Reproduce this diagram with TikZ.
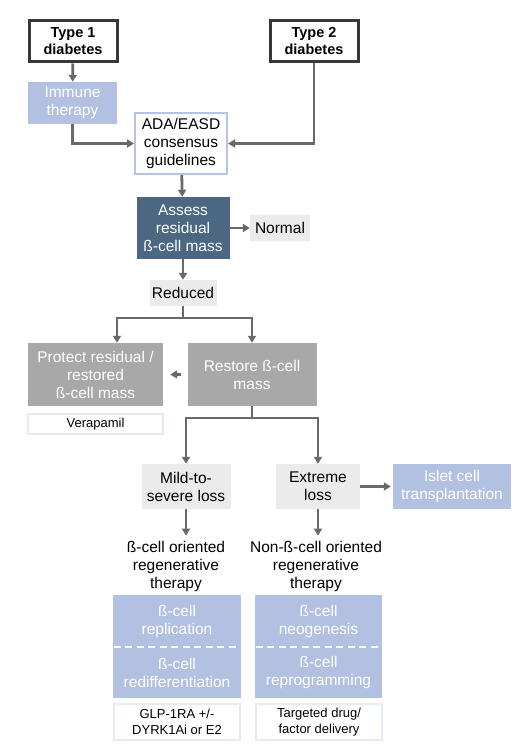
\documentclass[tikz,border=0pt]{standalone}
\usepackage{fontspec}
\setmainfont{Liberation Sans}
\usetikzlibrary{arrows.meta}

\definecolor{paleblue}{HTML}{B2C1E1}
\definecolor{slate}{HTML}{4B6782}
\definecolor{midgrey}{HTML}{A8A8A8}
\definecolor{lightgrey}{HTML}{EBEBEB}
\definecolor{typeline}{HTML}{383838}
\definecolor{adaline}{HTML}{B5C4E6}
\definecolor{noteline}{HTML}{E4EBF7}
\definecolor{flowgrey}{HTML}{696969}

\begin{document}
\begin{tikzpicture}[x = 1pt, y = -1pt,
  every node/.style = {align = center, inner sep = 0pt, font = \fontsize{15.5}{18}\selectfont},
  typebox/.style = {draw = typeline, line width = 3pt, fill = white, minimum width = 88pt, minimum height = 41pt, font = \fontsize{14.5}{17}\selectfont\bfseries},
  bluebox/.style = {fill = paleblue, text = white},
  darkbox/.style = {fill = slate, text = white},
  greybox/.style = {fill = midgrey, text = white},
  lightbox/.style = {fill = lightgrey},
  notebox/.style = {draw = noteline, line width = 2pt, fill = white, font = \fontsize{13}{16.5}\selectfont},
  flow/.style = {draw = flowgrey, line width = 2.8pt, -{Triangle[length = 7pt, width = 8pt]}},
  divider/.style = {draw = white, line width = 2.5pt, dash pattern = on 7pt off 4.5pt}]

\useasboundingbox (0, 0) rectangle (527, 751);

\node (type1) at (73, 41.5) [typebox]{Type 1\\diabetes};
\node (type2) at (314, 41.5) [typebox]{Type 2\\diabetes};
\node (immune) at (72.5, 103) [bluebox, minimum width = 89pt, minimum height = 42pt]{Immune\\therapy};
\node (ada) at (181, 143.5) [draw = adaline, line width = 2pt, fill = white, minimum width = 92pt, minimum height = 61pt]{ADA/EASD\\consensus\\guidelines};
\node (assess) at (183, 228) [darkbox, minimum width = 93pt, minimum height = 62pt]{Assess\\residual\\ß-cell mass};
\node (normal) at (280, 228) [lightbox, minimum width = 60pt, minimum height = 26pt]{Normal};
\node (reduced) at (183, 293) [lightbox, minimum width = 67pt, minimum height = 26pt]{Reduced};

\node (protect) at (95.5, 374.5) [greybox, minimum width = 135pt, minimum height = 63pt]{Protect residual /\\restored\\ß-cell mass};
\node (restore) at (252, 374.5) [greybox, minimum width = 129pt, minimum height = 63pt]{Restore ß-cell\\mass};
\node (verapamil) at (95.5, 424) [notebox, minimum width = 135pt, minimum height = 20pt]{Verapamil};

\node (mild) at (186, 486.5) [lightbox, minimum width = 89pt, minimum height = 45pt]{Mild-to-\\severe loss};
\node (extreme) at (318, 486.5) [lightbox, minimum width = 84pt, minimum height = 45pt]{Extreme\\loss};
\node (islet) at (452, 486.5) [bluebox, minimum width = 118pt, minimum height = 45pt]{Islet cell\\transplantation};

\node (betaleft) at (176, 566) {ß-cell oriented\\regenerative\\therapy};
\node (betaright) at (316, 566) {Non-ß-cell oriented\\regenerative\\therapy};

\node (replication) at (177, 621) [bluebox, minimum width = 128pt, minimum height = 52pt]{ß-cell\\replication};
\node (redifferentiation) at (177, 672.5) [bluebox, minimum width = 128pt, minimum height = 51pt]{ß-cell\\redifferentiation};
\node (neogenesis) at (318.5, 621) [bluebox, minimum width = 127pt, minimum height = 52pt]{ß-cell\\neogenesis};
\node (reprogramming) at (318.5, 672.5) [bluebox, minimum width = 127pt, minimum height = 51pt]{ß-cell\\reprogramming};

\node (glp) at (177, 722) [notebox, minimum width = 126pt, minimum height = 36pt]{GLP-1RA +/-\\DYRK1Ai or E2};
\node (targeted) at (319, 722) [notebox, minimum width = 126pt, minimum height = 36pt]{Targeted drug/\\factor delivery};

\coordinate (split1) at (183, 318);
\coordinate (left1) at (117, 318);
\coordinate (split2) at (252, 418);

\draw[flow] (type1) -- (immune);
\draw[flow] (immune.south) |- (ada.west);
\draw[flow] (type2.south) |- (ada.east);
\draw[flow] (ada) -- (assess);
\draw[flow] (assess) -- (normal);
\draw[flow] (assess) -- (reduced);

\draw[flow] (reduced.south) -- (split1) -- (left1) -- (left1 |- protect.north);
\draw[flow] (split1) -| (restore.north);
\draw[flow, shorten <= 6pt, shorten >= 7pt] (restore) -- (protect);

\draw[flow] (restore.south) -- (split2) -| (mild.north);
\draw[flow] (split2) -| (extreme.north);
\draw[flow, shorten >= 2pt] (extreme) -- (islet);

\draw[flow, shorten >= 5pt] (mild.south) -- (mild.south |- betaleft.north);
\draw[flow, shorten >= 5pt] (extreme.south) -- (extreme.south |- betaright.north);

\draw[divider, shorten <= 1pt, shorten >= 3pt] (replication.south west) -- (replication.south east);
\draw[divider, shorten <= 1pt, shorten >= 3pt] (neogenesis.south west) -- (neogenesis.south east);

\end{tikzpicture}
\end{document}
